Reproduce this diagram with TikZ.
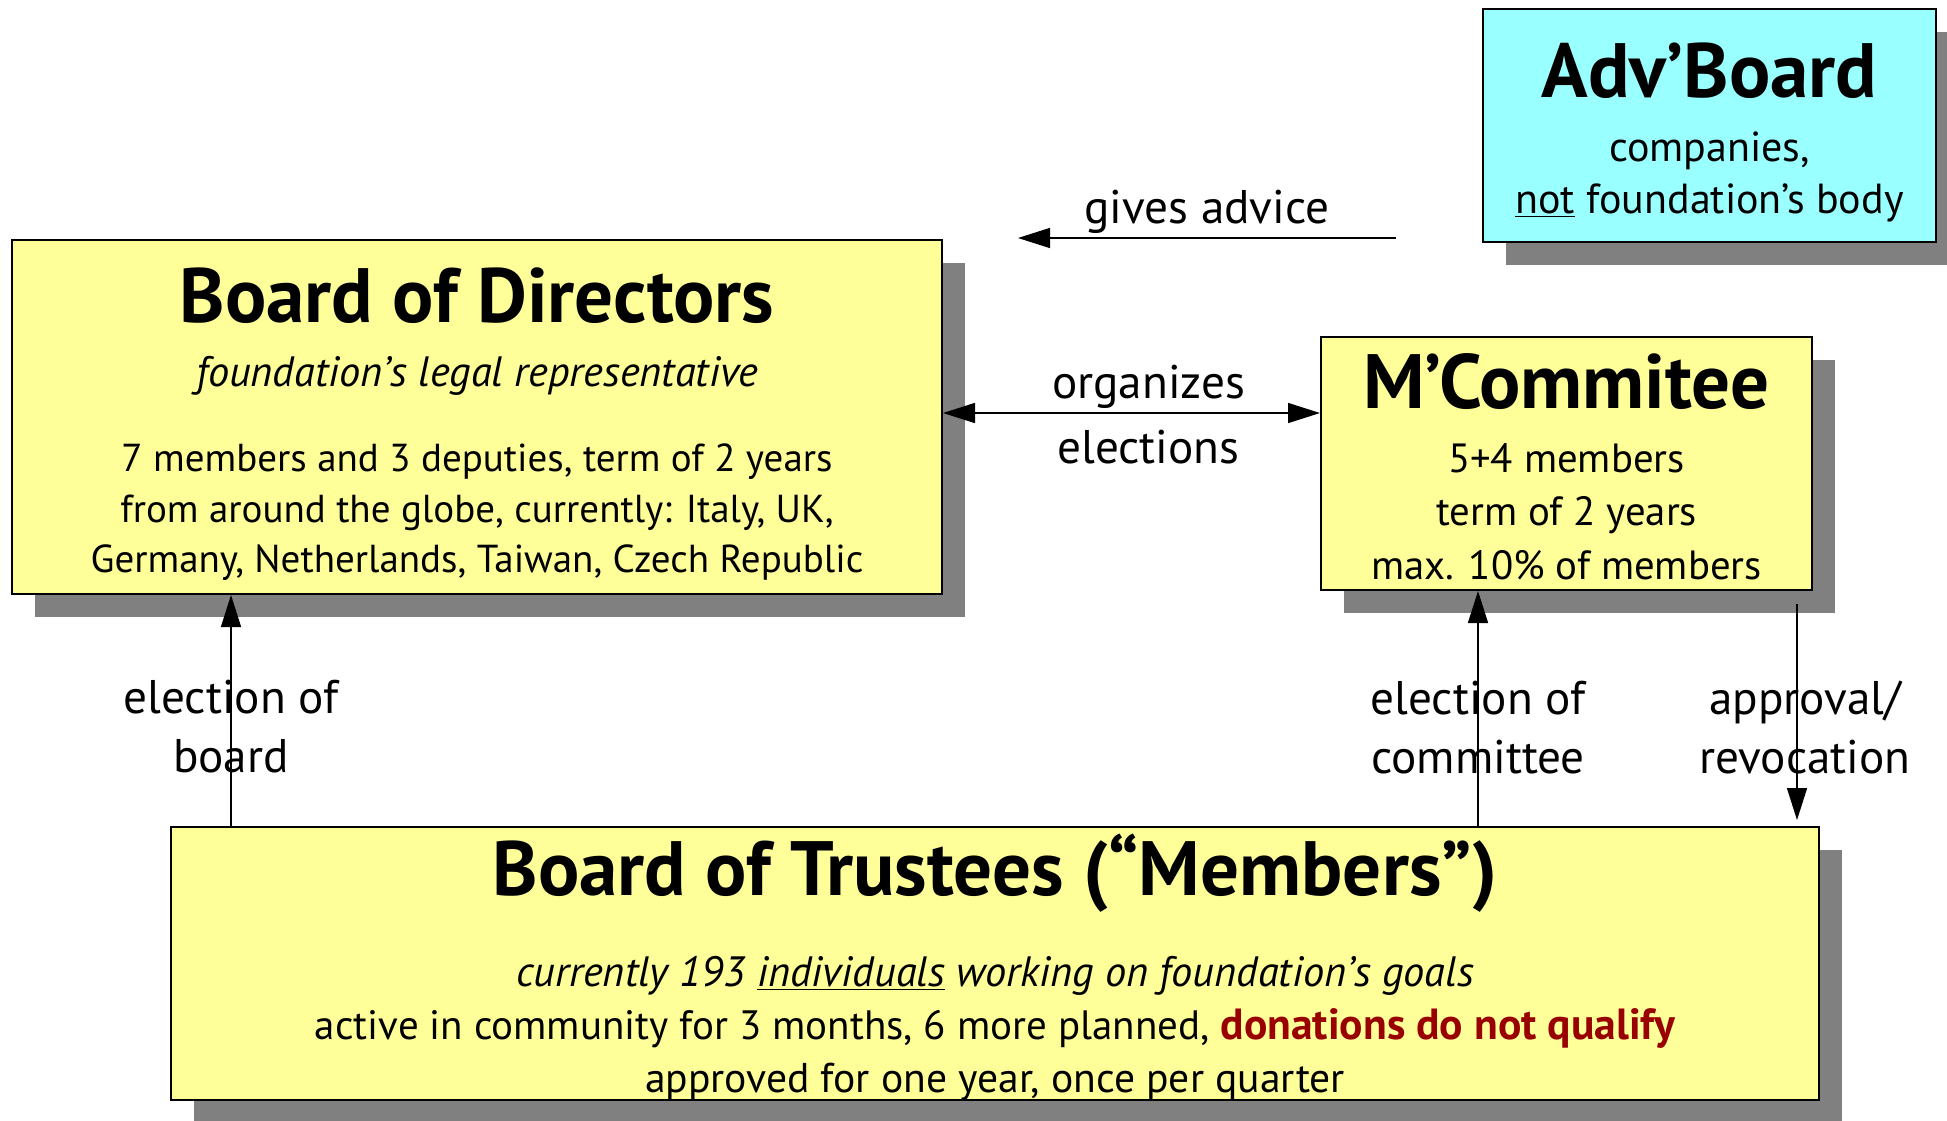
\documentclass[tikz,border=0pt]{standalone}
\usepackage{fontspec}
\setmainfont{PT Sans}
\usepackage{tikz}
\usetikzlibrary{arrows.meta}
\usetikzlibrary{positioning}
\usetikzlibrary{shadows}
\usepackage{xcolor}
\definecolor{boxyellow}{HTML}{FFFF99}
\definecolor{boxcyan}{HTML}{99FFFF}
\definecolor{shadowgray}{HTML}{808080}
\definecolor{darkred}{HTML}{990000}

\begin{document}
\begin{tikzpicture}[x=0.5pt,y=-0.5pt,->,>={Triangle[length=16pt,width=10pt]},line width=0.75pt,
            org box/.style={rectangle,draw=black,line width=1pt,fill=boxyellow,
                drop shadow={shadow xshift=11.5pt,shadow yshift=-11.5pt,fill=shadowgray,opacity=1}},
            adv box/.style={org box,fill=boxcyan},
            box title/.style={anchor=base,inner sep=0pt,font=\fontsize{38.5pt}{44pt}\selectfont\bfseries},
            box text/.style={anchor=base,inner sep=0pt,font=\fontsize{#1}{25pt}\selectfont},
            box text/.default=20pt,
            box note/.style={anchor=base,inner sep=0pt,font=\fontsize{21.2pt}{25pt}\selectfont\itshape},
            arrow label/.style={align=center,inner sep=0pt,font=\fontsize{23.6pt}{29.5pt}\selectfont}
            ]

            \path[use as bounding box,fill=white] (0,0) rectangle (1947,1120);

            % boxes
            \node[org box,minimum width=465pt,minimum height=177pt](bod) at (477,417){};
            \node[org box,minimum width=245.5pt,minimum height=126.5pt](mc) at (1566.5,463.5){};
            \node[adv box,minimum width=226.5pt,minimum height=116.5pt](adv) at (1709.5,125.5){};
            \node[org box,minimum width=824pt,minimum height=136.5pt](bot) at (995,963.5){};

            % board of directors
            \node[box title](bod-title) at (477,322){Board of Directors};
            \node[box note](bod-note) at (477,386){foundation’s legal representative};
            \node[box text=19.5pt](bod-l1) at (477,471){7 members and 3 deputies, term of 2 years};
            \node[box text=19.5pt](bod-l2) at (477,522){from around the globe, currently: Italy, UK,};
            \node[box text=19.5pt](bod-l3) at (477,572){Germany, Netherlands, Taiwan, Czech Republic};

            % membership committee
            \node[box title](mc-title) at (1566.5,408){M’Commitee};
            \node[box text=20.4pt](mc-l1) at (1566.5,472){5+4 members};
            \node[box text=20.4pt](mc-l2) at (1566.5,525){term of 2 years};
            \node[box text=20.4pt](mc-l3) at (1566.5,579){max. 10\% of members};

            % advisory board
            \node[box title](adv-title) at (1709.5,97){Adv’Board};
            \node[box text=21pt](adv-l1) at (1709.5,161){companies,};
            \node[box text=21pt](adv-l2) at (1709.5,213){\underline{not} foundation’s body};

            % board of trustees
            \node[box title](bot-title) at (995,895){Board of Trustees (“Members”)};
            \node[box note](bot-note) at (995,986){currently 193 \underline{individuals} working on foundation’s goals};
            \node[box text=20.5pt](bot-l1) at (995,1039){active in community for 3 months, 6 more planned, \textcolor{darkred}{\fontsize{21.8pt}{25pt}\selectfont\bfseries donations do not qualify}};
            \node[box text=20.8pt](bot-l2) at (995,1092){approved for one year, once per quarter};

            % arrows
            \coordinate(ga-from) at (1396,238);
            \coordinate(ga-to) at (1018,238);
            \coordinate(eb) at (231,0);
            \coordinate(ec) at (1478,0);
            \coordinate(ar) at (1797,0);

            \path
            (ga-from) edge node[arrow label,above=2pt]{gives advice} (ga-to)
            ([yshift=2pt]bod.east) edge[<->] node[arrow label,above=2pt,xshift=8.5pt]{organizes}
                node[arrow label,below=8pt,xshift=8.5pt]{elections} ([yshift=2pt]bod.east -| mc.west)
            (bot.north -| eb) edge node[arrow label,pos=.43]{election of\\board} (bod.south -| eb)
            (bot.north -| ec) edge node[arrow label,pos=.42]{election of\\committee} (mc.south -| ec)
            (mc.south -| ar) edge[shorten <=6.5pt,shorten >=3pt] node[arrow label,pos=.58,xshift=4pt]{approval/\\revocation} (bot.north -| ar);

        \end{tikzpicture}
\end{document}
